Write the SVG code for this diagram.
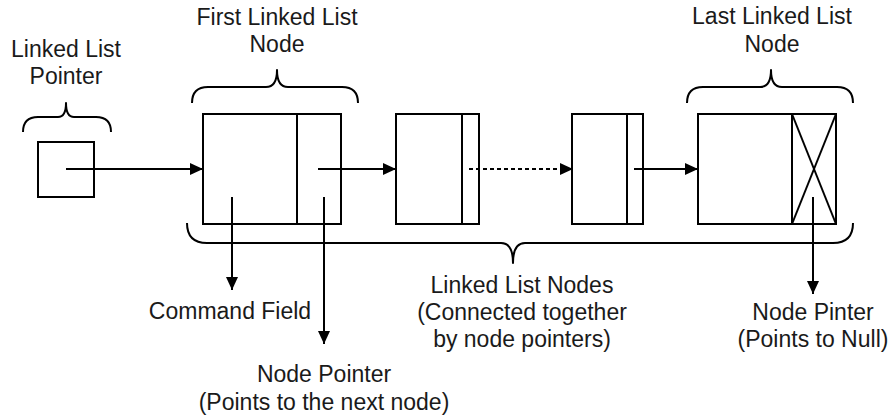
<svg xmlns="http://www.w3.org/2000/svg" width="891" height="417" viewBox="0 0 891 417">
  <style>
    .box { fill: #fff; stroke: #000; stroke-width: 2; }
    .ln { fill: none; stroke: #000; stroke-width: 2; }
    .brace { fill: none; stroke: #000; stroke-width: 2; stroke-linejoin: round; }
    .dash { stroke-dasharray: 4 3; }
    text { font-family: "Liberation Sans", Arial, sans-serif; font-size: 23px; fill: #1a1a1a; text-anchor: middle; }
  </style>
  <defs>
    <marker id="arrow" markerUnits="userSpaceOnUse" markerWidth="14" markerHeight="12" refX="13" refY="6" orient="auto">
      <path d="M0,0 L13,6 L0,12 z" fill="#000"/>
    </marker>
  </defs>

  <rect width="891" height="417" fill="#fff"/>

  <!-- list head pointer -->
  <g id="head-pointer">
    <rect class="box" x="38" y="142" width="56" height="55"/>
    <path class="brace" d="M23,132 Q23,117 38,117 L58,117 Q66,117 66,103 Q66,117 74,117 L96,117 Q111,117 111,132"/>
    <text x="66" y="57">Linked List</text>
    <text x="66" y="84">Pointer</text>
  </g>

  <!-- first node: command field + node pointer -->
  <g id="node-first">
    <rect class="box" x="203" y="114" width="138" height="110"/>
    <line class="ln" x1="297" y1="114" x2="297" y2="224"/>
    <path class="brace" d="M192,103 Q192,87 208,87 L266,87 Q277,87 277,70 Q277,87 288,87 L342,87 Q358,87 358,103"/>
    <text x="277" y="25">First Linked List</text>
    <text x="277" y="52">Node</text>
  </g>

  <!-- second node -->
  <g id="node-2">
    <rect class="box" x="396" y="114" width="83" height="110"/>
    <line class="ln" x1="462" y1="114" x2="462" y2="224"/>
  </g>

  <!-- next-to-last node -->
  <g id="node-3">
    <rect class="box" x="572" y="114" width="71" height="110"/>
    <line class="ln" x1="627" y1="114" x2="627" y2="224"/>
  </g>

  <!-- last node: null pointer field -->
  <g id="node-last">
    <rect class="box" x="698" y="114" width="138" height="110"/>
    <line class="ln" x1="792" y1="114" x2="792" y2="224"/>
    <line class="ln" x1="792" y1="114" x2="836" y2="224"/>
    <line class="ln" x1="836" y1="114" x2="792" y2="224"/>
    <path class="brace" d="M687,103 Q687,87 703,87 L760,87 Q771,87 771,70 Q771,87 782,87 L837,87 Q853,87 853,103"/>
    <text x="772" y="24">Last Linked List</text>
    <text x="772" y="52">Node</text>
  </g>

  <!-- span of all nodes -->
  <g id="nodes-span">
    <path class="brace" d="M187,223 Q187,243 207,243 L501,243 Q513,243 513,263 Q513,243 525,243 L833,243 Q853,243 853,223"/>
    <text x="522" y="293">Linked List Nodes</text>
    <text x="522" y="320">(Connected together</text>
    <text x="522" y="347">by node pointers)</text>
  </g>

  <!-- callout labels -->
  <g id="labels">
    <text x="230" y="319">Command Field</text>
    <text x="324" y="382">Node Pointer</text>
    <text x="324" y="410">(Points to the next node)</text>
    <text x="813" y="320">Node Pinter</text>
    <text x="813" y="347">(Points to Null)</text>
  </g>

  <!-- connectors -->
  <g id="connectors">
    <line class="ln" x1="66" y1="169" x2="203" y2="169" marker-end="url(#arrow)"/>
    <line class="ln" x1="318" y1="169" x2="396" y2="169" marker-end="url(#arrow)"/>
    <line class="ln dash" x1="469" y1="169" x2="573" y2="169" marker-end="url(#arrow)"/>
    <line class="ln" x1="634" y1="169" x2="698" y2="169" marker-end="url(#arrow)"/>
    <line class="ln" x1="232" y1="197" x2="232" y2="290" marker-end="url(#arrow)"/>
    <line class="ln" x1="324" y1="197" x2="324" y2="344" marker-end="url(#arrow)"/>
    <line class="ln" x1="813" y1="197" x2="813" y2="294" marker-end="url(#arrow)"/>
  </g>
</svg>
